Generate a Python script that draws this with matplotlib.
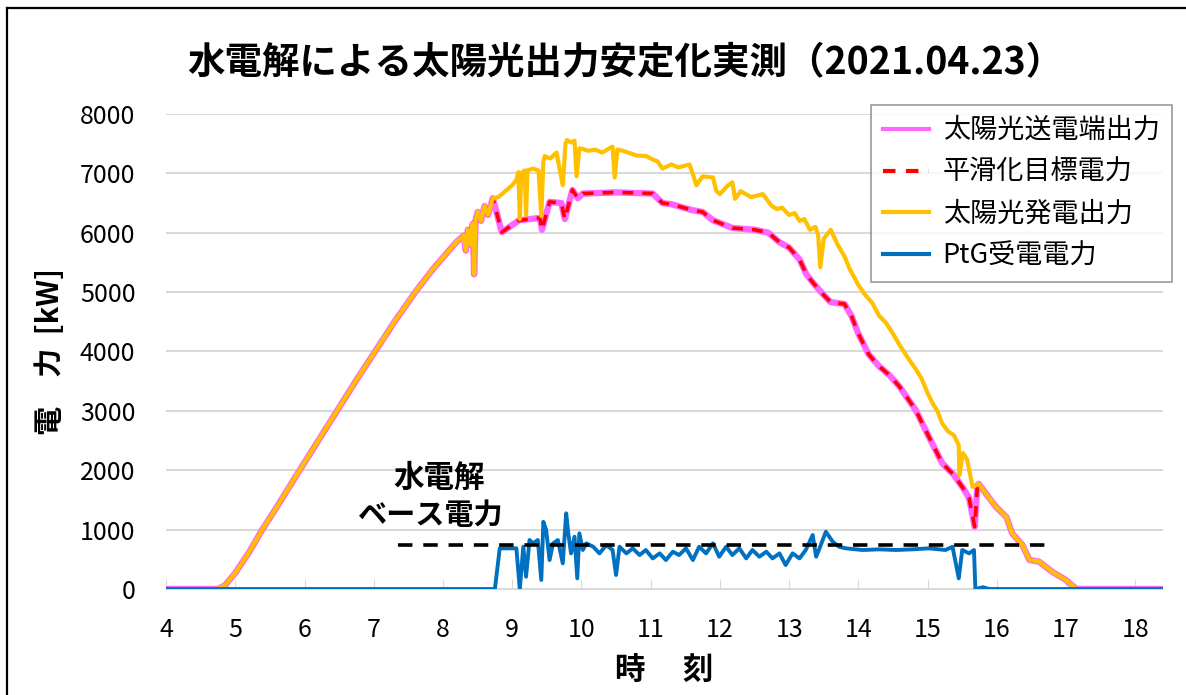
import matplotlib
matplotlib.use("Agg")
import matplotlib.pyplot as plt
from matplotlib.lines import Line2D

plt.rcParams['font.family'] = ['Noto Sans CJK JP', 'DejaVu Sans']

# 太陽光発電出力 [kW] (時刻, 値)
gen_t = [4.0, 4.75, 4.85, 5.0, 5.2, 5.39, 5.6, 5.93, 6.2, 6.47, 6.75, 7.02, 7.3, 7.6, 7.85, 8.05,
         8.2, 8.3, 8.33, 8.36, 8.4, 8.43, 8.45, 8.47, 8.5, 8.55, 8.6, 8.65, 8.7, 8.72,
         8.8, 8.9, 9.0, 9.06, 9.09, 9.11, 9.13, 9.18, 9.2, 9.22, 9.3, 9.38, 9.42, 9.45, 9.47,
         9.55, 9.64, 9.73, 9.77, 9.79, 9.85, 9.9, 9.93, 9.97, 10.02, 10.1, 10.2, 10.3, 10.4,
         10.45, 10.48, 10.52, 10.6, 10.7, 10.8, 10.94, 11.0, 11.1, 11.17, 11.3, 11.4, 11.56,
         11.62, 11.66, 11.75, 11.9, 11.95, 12.0, 12.1, 12.18, 12.22, 12.3, 12.45, 12.62, 12.75,
         12.82, 12.9, 13.0, 13.08, 13.15, 13.22, 13.3, 13.38, 13.42, 13.45, 13.5, 13.6, 13.7,
         13.8, 13.87, 14.0, 14.1, 14.2, 14.3, 14.4, 14.5, 14.6, 14.74, 14.83, 14.91, 15.0,
         15.07, 15.14, 15.21, 15.3, 15.38, 15.45, 15.46, 15.51, 15.57, 15.65, 15.74, 15.84,
         15.99, 16.14, 16.22, 16.37, 16.47, 16.61, 16.8, 17.0, 17.15, 18.4]
gen_v = [0, 0, 60, 270, 620, 1000, 1380, 2000, 2500, 3000, 3520, 4000, 4500, 5000, 5380, 5650,
         5850, 5950, 5700, 6050, 5800, 6150, 5300, 6200, 6350, 6200, 6450, 6300, 6500, 6580,
         6600, 6700, 6800, 6890, 7020, 6230, 7000, 7050, 6300, 7050, 7080, 7050, 6280, 7200, 7290,
         7250, 7350, 6800, 7500, 7560, 7520, 7550, 6950, 7420, 7410, 7380, 7400, 7350, 7420,
         7450, 6930, 7400, 7380, 7340, 7300, 7290, 7250, 7200, 7080, 7150, 7100, 7150,
         6950, 6800, 6950, 6930, 6700, 6650, 6780, 6850, 6570, 6700, 6600, 6650, 6450,
         6400, 6420, 6300, 6330, 6200, 6230, 6050, 6100, 5950, 5420, 5900, 6050, 5800,
         5600, 5400, 5120, 4950, 4820, 4600, 4480, 4300, 4100, 3850, 3700, 3550, 3300,
         3130, 3000, 2790, 2650, 2590, 2420, 1920, 2290, 2180, 1720, 1770, 1610,
         1380, 1210, 940, 740, 490, 460, 290, 150, 0, 0]

# 太陽光送電端出力 / 平滑化目標電力 [kW]
out_t = [4.0, 4.75, 4.85, 5.0, 5.2, 5.39, 5.6, 5.93, 6.2, 6.47, 6.75, 7.02, 7.3, 7.6, 7.85, 8.05,
         8.2, 8.3, 8.33, 8.36, 8.4, 8.43, 8.45, 8.47, 8.5, 8.55, 8.6, 8.65, 8.7, 8.72,
         8.85, 9.1, 9.25, 9.4, 9.43, 9.54, 9.71, 9.76, 9.87, 9.95, 10.02, 10.5, 11.03, 11.17,
         11.3, 11.6, 11.75, 11.9, 12.18, 12.5, 12.7, 12.86, 13.0, 13.15, 13.25, 13.35, 13.5,
         13.6, 13.8, 13.9, 14.0, 14.15, 14.3, 14.45, 14.6, 14.83, 15.02, 15.21, 15.38, 15.53,
         15.6, 15.68, 15.72, 15.74, 15.84, 15.99, 16.14, 16.22, 16.37, 16.47, 16.61, 16.8,
         17.0, 17.15, 18.4]
out_v = [0, 0, 60, 270, 620, 1000, 1380, 2000, 2500, 3000, 3520, 4000, 4500, 5000, 5380, 5650,
         5850, 5950, 5700, 6050, 5800, 6150, 5300, 6200, 6350, 6200, 6450, 6300, 6500, 6580,
         6010, 6210, 6230, 6250, 6050, 6520, 6500, 6230, 6720, 6580, 6660, 6680, 6660, 6500,
         6480, 6380, 6350, 6210, 6080, 6050, 6000, 5840, 5750, 5550, 5300, 5150, 4950,
         4830, 4800, 4600, 4300, 3950, 3750, 3600, 3400, 3010, 2560, 2120, 1920, 1670,
         1530, 1050, 1750, 1770, 1610, 1380, 1210, 940, 740, 490, 460, 290,
         150, 0, 0]

# PtG受電電力 [kW]
ptg_t = [4.0, 8.75, 8.82, 9.06, 9.11, 9.16, 9.20, 9.25, 9.30, 9.37, 9.42, 9.45, 9.49, 9.54,
         9.59, 9.66, 9.73, 9.78, 9.81, 9.85, 9.90, 9.94, 9.97, 10.02, 10.07, 10.17, 10.26,
         10.36, 10.45, 10.50, 10.55, 10.65, 10.74, 10.84, 10.93, 11.03, 11.13, 11.22, 11.32,
         11.41, 11.51, 11.61, 11.70, 11.80, 11.90, 11.99, 12.09, 12.18, 12.28, 12.38, 12.47,
         12.57, 12.67, 12.76, 12.86, 12.95, 13.05, 13.15, 13.24, 13.34, 13.39, 13.43, 13.53,
         13.63, 13.72, 13.82, 14.06, 14.30, 14.54, 14.78, 15.02, 15.26, 15.36, 15.45, 15.50,
         15.60, 15.67, 15.69, 15.80, 15.89, 15.95, 18.4]
ptg_v = [0, 0, 685, 685, 0, 712, 207, 825, 769, 825, 152, 1133, 993, 488,
         769, 825, 432, 1274, 937, 600, 881, 180, 937, 657, 769, 712, 600,
         740, 657, 236, 712, 600, 685, 572, 657, 516, 600, 488, 628,
         572, 685, 488, 712, 600, 769, 544, 712, 572, 685, 516, 657,
         544, 628, 516, 600, 404, 600, 516, 657, 909, 544, 657, 965,
         797, 712, 685, 657, 668, 657, 668, 685, 657, 712, 180, 657,
         600, 657, 0, 30, 0, 0, 0]

base_x = [7.35, 16.76]
base_v = [740, 740]

yticks = [0, 1000, 2000, 3000, 4000, 5000, 6000, 7000, 8000]
xticks = list(range(4, 19))

fig = plt.figure(figsize=(11.86, 6.95), dpi=100)
ax = fig.add_axes([0.140, 0.1525, 0.8406, 0.6835])

ax.plot(out_t, out_v, color='#FF66FF', lw=4.6, label='太陽光送電端出力', zorder=2)
ax.plot(out_t, out_v, color='#FF0000', lw=2.6, ls=(0, (3, 2.5)), label='平滑化目標電力', zorder=3)
ax.plot(gen_t, gen_v, color='#FFC000', lw=3.0, label='太陽光発電出力', zorder=4)
ax.plot(ptg_t, ptg_v, color='#0070C0', lw=2.8, label='PtG受電電力', zorder=5)
ax.plot(base_x, base_v, color='black', lw=2.6, ls=(0, (4, 3)), zorder=6)

ax.set_xlim(4, 18.4)
ax.set_ylim(0, 8000)
ax.set_xticks(xticks)
ax.set_yticks(yticks)
ax.yaxis.grid(True, color='#D9D9D9', lw=1.5)
ax.set_axisbelow(True)
for s in ['top', 'right', 'left']:
    ax.spines[s].set_visible(False)
ax.spines['bottom'].set_color('#D9D9D9')
ax.tick_params(axis='x', direction='in', length=7, color='#D9D9D9', labelsize=18, pad=20)
ax.tick_params(axis='y', length=0, labelsize=18, pad=22)

ax.set_xlabel('時　 刻', fontsize=22, fontweight='bold', labelpad=9)
ax.set_ylabel('電　力  [kW]', fontsize=21, fontweight='bold', labelpad=11)

ax.text(7.95, 1870, '水電解', fontsize=22, fontweight='bold', ha='center', va='center')
ax.text(7.82, 1250, 'ベース電力', fontsize=21, fontweight='bold', ha='center', va='center')

fig.text(0.527, 0.909, '水電解による太陽光出力安定化実測（2021.04.23）',
         fontsize=27, fontweight='bold', ha='center', va='center')

leg = fig.legend(loc='upper right', bbox_to_anchor=(0.988, 0.849), fontsize=19.5,
                 frameon=True, fancybox=False, edgecolor='#808080', handlelength=1.7,
                 labelspacing=0.55, borderpad=0.45, handletextpad=0.5, borderaxespad=0)
leg.get_frame().set_linewidth(1.2)
for h in leg.get_lines():
    h.set_linewidth(3.0)

# 外枠
fig.add_artist(Line2D([0.0059, 1.0], [0.9885, 0.9885], color='black', lw=1.6))
fig.add_artist(Line2D([0.0059, 0.0059], [0.0, 0.9885], color='black', lw=1.6))

fig.savefig('out.png', dpi=100)
